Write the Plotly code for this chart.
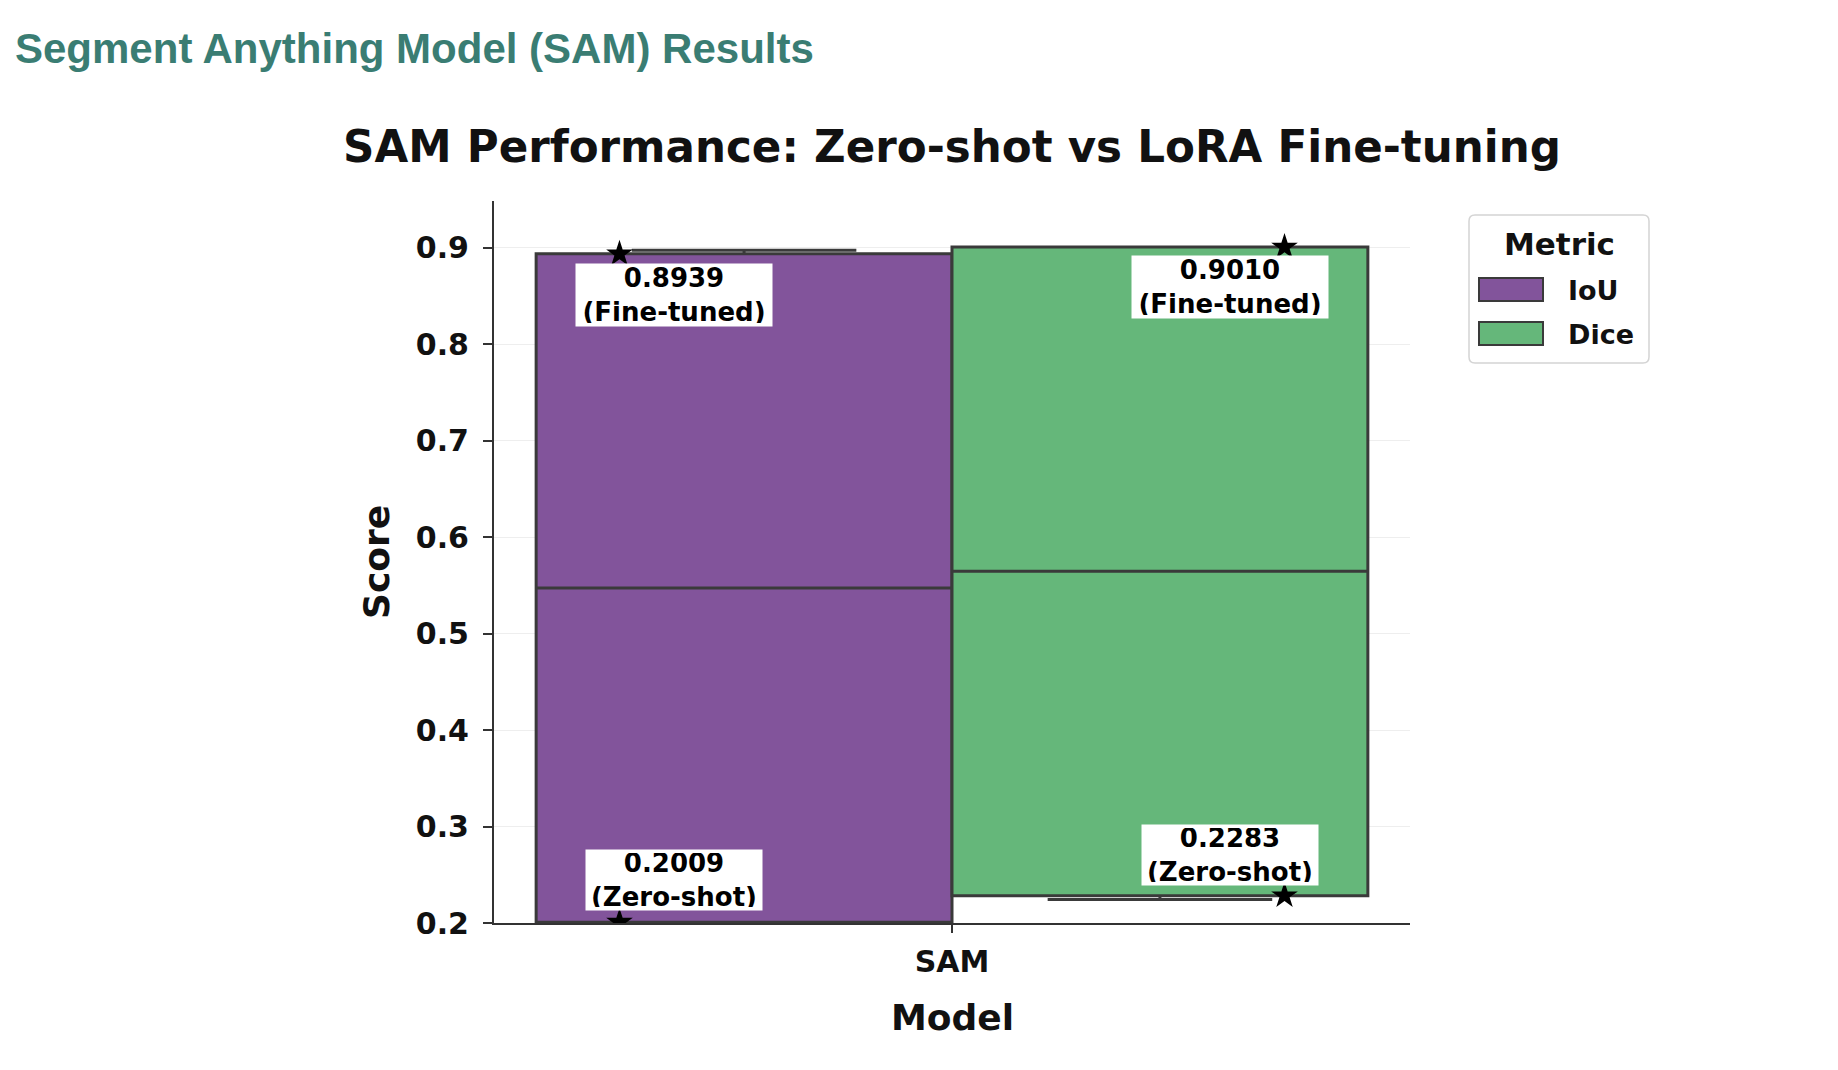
import plotly.graph_objects as go

# ---------------- data ----------------
models = ["SAM"]
metrics = ["IoU", "Dice"]
zero_shot = [0.2009, 0.2283]
fine_tuned = [0.8939, 0.9010]
medians = [0.5474, 0.5647]
whisker_low = [0.2009, 0.2243]
whisker_high = [0.8975, 0.9010]
y_ticks = [0.2, 0.3, 0.4, 0.5, 0.6, 0.7, 0.8, 0.9]

# ---------------- style / layout ----------------
colors = ["#82549B", "#65B77A"]
edge = "#3a3a3a"
box_pos = [-0.227, 0.227]
star_pos = [-0.363, 0.363]
label_pos = [-0.303, 0.303]
BOX_W = 0.454

W, H = 1822, 1054
ML, MR, MT, MB = 486, 420, 193, 139
PW, PH = W - ML - MR, H - MT - MB
FONT = "DejaVu Sans"


def px(xpix):
    return (xpix - ML) / PW


def py(ypix):
    return (MT + PH - ypix) / PH


fig = go.Figure()

for i, m in enumerate(metrics):
    fig.add_trace(go.Box(
        x=[box_pos[i]], q1=[zero_shot[i]], median=[medians[i]], q3=[fine_tuned[i]],
        lowerfence=[whisker_low[i]], upperfence=[whisker_high[i]],
        width=BOX_W, whiskerwidth=0.54, boxpoints=False,
        fillcolor=colors[i], line=dict(color=edge, width=3),
        name=m, showlegend=False, hoverinfo="skip",
    ))

for i, m in enumerate(metrics):
    fig.add_trace(go.Scatter(
        x=[star_pos[i], star_pos[i]], y=[zero_shot[i], fine_tuned[i]],
        mode="markers", marker=dict(symbol="star", size=20, color="black"),
        showlegend=False, hoverinfo="skip",
    ))

annotations = []
shifts_top = [-9, -8]
shifts_bot = [11, 10]
for i, m in enumerate(metrics):
    annotations.append(dict(
        x=label_pos[i], y=fine_tuned[i], xref="x", yref="y",
        text=f"{fine_tuned[i]:.4f}<br>(Fine-tuned)", showarrow=False,
        yanchor="top", xanchor="center", yshift=shifts_top[i],
        bgcolor="white", borderpad=3, width=190, height=56,
        font=dict(family=FONT, size=26, color="black", weight="bold"),
    ))
    annotations.append(dict(
        x=label_pos[i], y=zero_shot[i], xref="x", yref="y",
        text=f"{zero_shot[i]:.4f}<br>(Zero-shot)", showarrow=False,
        yanchor="bottom", xanchor="center", yshift=shifts_bot[i],
        bgcolor="white", borderpad=3, width=170, height=54,
        font=dict(family=FONT, size=26, color="black", weight="bold"),
    ))

# page heading
annotations.append(dict(
    x=px(4.6), y=py(40.5), xref="paper", yref="paper", xanchor="left", yanchor="middle",
    text="Segment Anything Model (SAM) Results", showarrow=False,
    font=dict(family="Liberation Sans", size=42, color="#3a7d73", weight="bold"),
))
# chart title
annotations.append(dict(
    x=0.5, y=py(139), xref="paper", yref="paper", xanchor="center", yanchor="middle",
    text="SAM Performance: Zero-shot vs LoRA Fine-tuning", showarrow=False,
    font=dict(family=FONT, size=43.6, color="#111111", weight="bold"),
))
# axis titles
annotations.append(dict(
    x=px(368), y=0.5, xref="paper", yref="paper", xanchor="center", yanchor="middle",
    text="Score", textangle=-90, showarrow=False,
    font=dict(family=FONT, size=36, color="#111111", weight="bold"),
))
annotations.append(dict(
    x=0.5, y=py(1009), xref="paper", yref="paper", xanchor="center", yanchor="middle",
    text="Model", showarrow=False,
    font=dict(family=FONT, size=36, color="#111111", weight="bold"),
))

# legend (drawn)
lx0, lx1, ly0, ly1 = px(1461), px(1641), py(355), py(207)
rx, ry = 6 / PW, 6 / PH
path = (f"M {lx0+rx},{ly1} L {lx1-rx},{ly1} Q {lx1},{ly1} {lx1},{ly1-ry} "
        f"L {lx1},{ly0+ry} Q {lx1},{ly0} {lx1-rx},{ly0} L {lx0+rx},{ly0} "
        f"Q {lx0},{ly0} {lx0},{ly0+ry} L {lx0},{ly1-ry} Q {lx0},{ly1} {lx0+rx},{ly1} Z")
shapes = [dict(type="path", path=path, xref="paper", yref="paper",
               line=dict(color="#d4d4d4", width=1.5), fillcolor="rgba(255,255,255,0.85)")]
annotations.append(dict(
    x=px(1551.5), y=py(236), xref="paper", yref="paper", xanchor="center", yanchor="middle",
    text="Metric", showarrow=False,
    font=dict(family=FONT, size=31, color="#111111", weight="bold"),
))
sw_top = [270, 314]
for i, m in enumerate(metrics):
    shapes.append(dict(type="rect", xref="paper", yref="paper",
                       x0=px(1471), x1=px(1535), y0=py(sw_top[i] + 23), y1=py(sw_top[i]),
                       fillcolor=colors[i], line=dict(color=edge, width=2)))
    annotations.append(dict(
        x=px(1558), y=py(sw_top[i] + 12), xref="paper", yref="paper",
        xanchor="left", yanchor="middle", text=m, showarrow=False,
        font=dict(family=FONT, size=27, color="#111111", weight="bold"),
    ))

fig.update_layout(
    width=W, height=H,
    margin=dict(l=ML, r=MR, t=MT, b=MB, pad=0),
    paper_bgcolor="white", plot_bgcolor="white",
    boxmode="overlay",
    annotations=annotations, shapes=shapes,
    showlegend=False,
    xaxis=dict(
        range=[-0.5, 0.5], tickvals=[0], ticktext=models,
        showline=True, linecolor="#333333", linewidth=2,
        ticks="outside", ticklen=8, tickwidth=2, tickcolor="#333333",
        showgrid=False, zeroline=False, ticklabelstandoff=3,
        tickfont=dict(family=FONT, size=30, color="#111111", weight="bold"),
    ),
    yaxis=dict(
        range=[0.2, 0.9487], tickvals=y_ticks, tickformat=".1f",
        showline=True, linecolor="#333333", linewidth=2,
        ticks="outside", ticklen=9, tickwidth=2, tickcolor="#333333",
        showgrid=True, gridcolor="#eeeeee", gridwidth=1, zeroline=False,
        ticklabelstandoff=8,
        tickfont=dict(family=FONT, size=30, color="#111111", weight="bold"),
    ),
)

fig.write_html("out.html")
